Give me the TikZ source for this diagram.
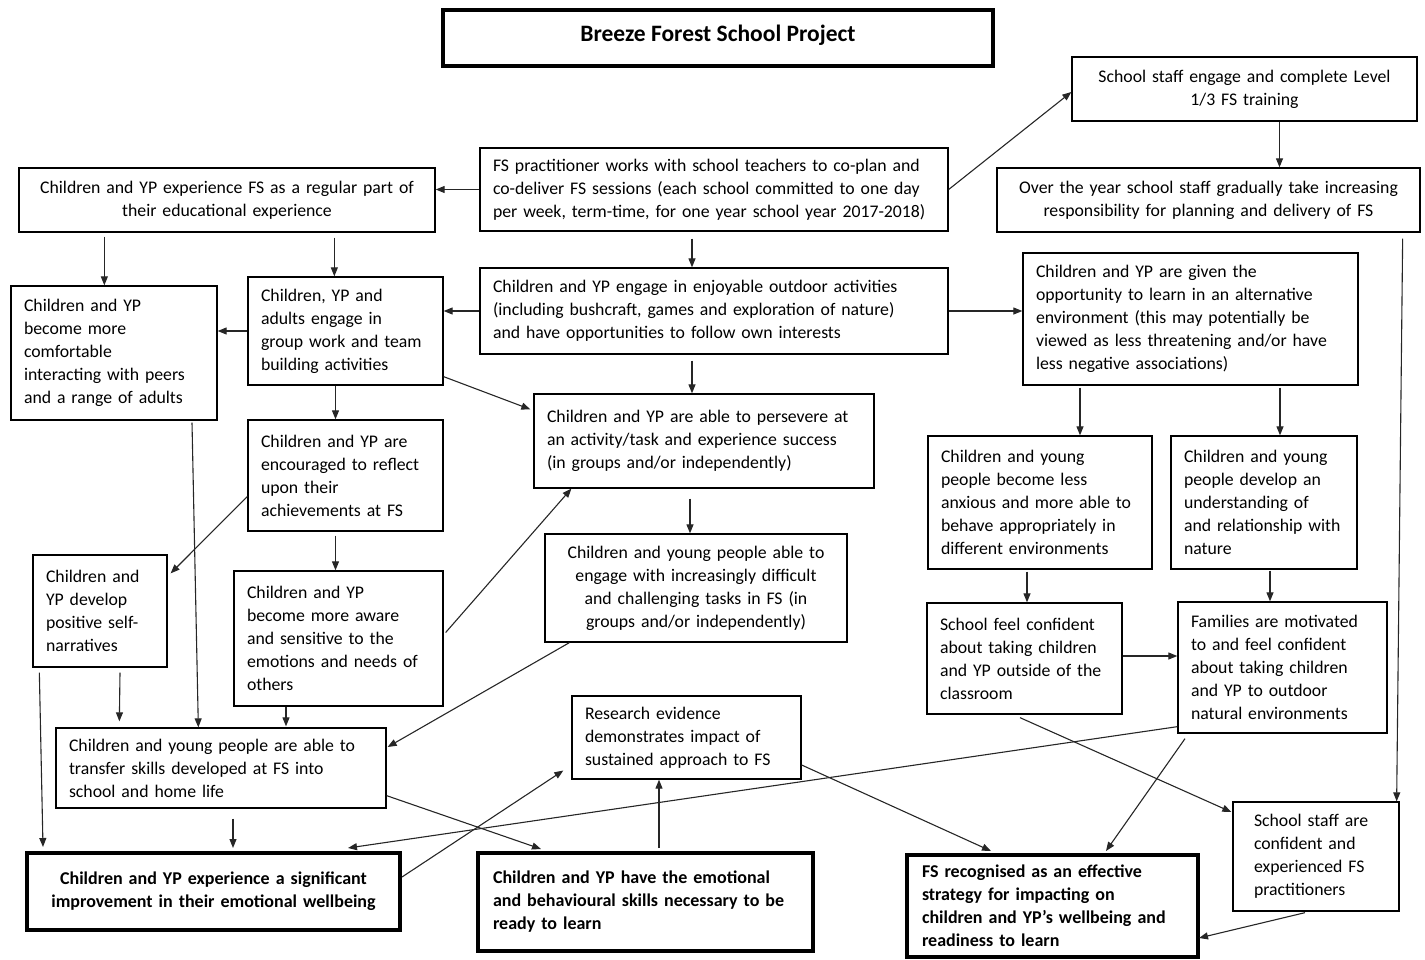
\documentclass[tikz,border=0pt]{standalone}
\usepackage{fontspec}
\setmainfont{Carlito}
\usepackage{tikz}
\usetikzlibrary{positioning}
\usetikzlibrary{calc,arrows.meta}

\tikzset{
	fsbox/.style={draw=black, line width=1.3pt, fill=white, inner xsep=13pt, inner ysep=3pt,
		font=\fontsize{17.75}{23}\selectfont},
	leftbox/.style={fsbox, align=left},
	midbox/.style={fsbox, align=center},
	keybox/.style={line width=4pt, inner xsep=15pt, font=\fontsize{18}{23}\selectfont\bfseries},
	link/.style={draw=black!85, line width=1.1pt, -{Triangle[length=9pt,width=7pt]}},
}

\begin{document}
\begin{tikzpicture}[x=1pt,y=-1pt]
	
	\useasboundingbox (0,0) rectangle (1425,959);
	
	% NOTE: ALL POSITIONS ARE IN PIXELS OF THE ORIGINAL PAGE, y GROWS DOWNWARD
	%		TEXT WIDTH = BOX WIDTH - 2*INNER XSEP
	
	\node[midbox, keybox, minimum width=550pt, minimum height=56pt, text depth=9pt,
		font=\fontsize{23.5}{28}\selectfont\bfseries] (Title) at (718,38) {Breeze Forest School Project};
	
	% top row
	\node[leftbox, text width=442pt, minimum height=83pt] (Plan) at (714,189.5)
		{FS practitioner works with school teachers to co-plan and\\co-deliver FS sessions (each school committed to one day\\per week, term-time, for one year school year 2017-2018)};
	\node[midbox, text width=390pt, minimum height=64pt] (Regular) at (227,200)
		{Children and YP experience FS as a regular part of\\their educational experience};
	\node[midbox, text width=319pt, minimum height=64pt] (Training) at (1244.5,89)
		{School staff engage and complete Level\\1/3 FS training};
	\node[midbox, text width=397pt, minimum height=64pt] (Gradual) at (1208.5,200)
		{Over the year school staff gradually take increasing\\responsibility for planning and delivery of FS};
	
	% second row
	\node[leftbox, text width=442pt, minimum height=86pt] (Outdoor) at (714,311)
		{Children and YP engage in enjoyable outdoor activities\\(including bushcraft, games and exploration of nature)\\and have opportunities to follow own interests};
	\node[leftbox, text width=169pt, minimum height=108pt] (Group) at (345.5,331)
		{Children, YP and\\adults engage in\\group work and team\\building activities};
	\node[leftbox, text width=180pt, minimum height=134pt] (Comfortable) at (114,353)
		{Children and YP\\become more\\comfortable\\interacting with peers\\and a range of adults};
	\node[leftbox, text width=309pt, minimum height=132pt] (Alternative) at (1190.5,319)
		{Children and YP are given the\\opportunity to learn in an alternative\\environment (this may potentially be\\viewed as less threatening and/or have\\less negative associations)};
	
	% middle
	\node[leftbox, text width=314pt, minimum height=94pt] (Persevere) at (704,441)
		{Children and YP are able to persevere at\\an activity/task and experience success\\(in groups and/or independently)};
	\node[leftbox, text width=169pt, minimum height=111pt] (Reflect) at (345.5,475.5)
		{Children and YP are\\encouraged to reflect\\upon their\\achievements at FS};
	\node[midbox, text width=276pt, minimum height=108pt] (Harder) at (696,588)
		{Children and young people able to\\engage with increasingly difficult\\and challenging tasks in FS (in\\groups and/or independently)};
	\node[leftbox, text width=198pt, minimum height=133pt] (Anxious) at (1040,502.5)
		{Children and young\\people become less\\anxious and more able to\\behave appropriately in\\different environments};
	\node[leftbox, text width=160pt, minimum height=133pt] (Nature) at (1264,502.5)
		{Children and young\\people develop an\\understanding of\\and relationship with\\nature};
	\node[leftbox, text width=108pt, minimum height=112pt] (Narratives) at (100,611)
		{Children and\\YP develop\\positive self-\\narratives};
	\node[leftbox, text width=183pt, minimum height=135pt] (Aware) at (338.5,638.5)
		{Children and YP\\become more aware\\and sensitive to the\\emotions and needs of\\others};
	\node[leftbox, text width=169pt, minimum height=111pt] (Confident) at (1024.5,658.5)
		{School feel confident\\about taking children\\and YP outside of the\\classroom};
	\node[leftbox, text width=183pt, minimum height=131pt] (Families) at (1282.5,667.5)
		{Families are motivated\\to and feel confident\\about taking children\\and YP to outdoor\\natural environments};
	
	% lower part
	\node[leftbox, text width=203pt, minimum height=83pt] (Research) at (686.5,737.5)
		{Research evidence\\demonstrates impact of\\sustained approach to FS};
	\node[leftbox, text width=304pt, minimum height=80pt] (Transfer) at (221,768)
		{Children and young people are able to\\transfer skills developed at FS into\\school and home life};
	\node[leftbox, inner xsep=21pt, text width=124pt, minimum height=109pt] (Staff) at (1316,856.5)
		{School staff are\\confident and\\experienced FS\\practitioners};
	
	% outcomes (thick boxes)
	\node[midbox, keybox, text width=343pt, minimum height=77pt] (Wellbeing) at (213.5,891.5)
		{Children and YP experience a significant\\improvement in their emotional wellbeing};
	\node[leftbox, keybox, text width=305pt, minimum height=98pt] (Ready) at (645.5,902)
		{Children and YP have the emotional\\and behavioural skills necessary to be\\ready to learn};
	\node[leftbox, keybox, text width=261pt, minimum height=102pt] (Recognised) at (1052.5,906)
		{FS recognised as an effective\\strategy for impacting on\\children and YP’s wellbeing and\\readiness to learn};
	
	
	%%%%%%%%%%%%%%%%%%%%%%%%%%%%%%%%%%%%%%%%%%%%%%%%%%%%%%%%%%%%%%
	% connectors
	
	\draw[link] (Plan.west) -- (Plan.west -| Regular.east);
	\draw[link] (Plan.east) -- ($(Training.west)+(0,3)$);
	\draw[link] ($(Training.south)+(35,0)$) -- ($(Gradual.north)+(71,0)$);
	\draw[link] ($(Plan.south)+(-22,7)$) -- ($(Outdoor.north)+(-22,0)$);
	
	\draw[link] ($(Regular.south west)+(86,4)$) -- ($(Comfortable.north west)+(94,0)$);
	\draw[link] ($(Regular.south west)+(316,5)$) -- ($(Group.north west)+(87,0)$);
	\draw[link] (Outdoor.west) -- (Outdoor.west -| Group.east);
	\draw[link] (Outdoor.east) -- (Outdoor.east -| Alternative.west);
	\draw[link] (Group.west) -- (Group.west -| Comfortable.east);
	\draw[link] ($(Group.south east)+(0,-9)$) -- ($(Persevere.north west)+(-3,16)$);
	\draw[link] ($(Outdoor.south)+(-22,6)$) -- ($(Persevere.north)+(-12,0)$);
	\draw[link] ($(Group.south)+(-10,0)$) -- ($(Reflect.north)+(-10,0)$);
	
	\draw[link] ($(Reflect.west)+(0,21)$) -- ($(Narratives.north east)+(3,19)$);
	\draw[link] ($(Reflect.south)+(-10,4)$) -- ($(Aware.north)+(-3,0)$);
	\draw[link] ($(Persevere.south)+(-14,10)$) -- ($(Harder.north)+(-6,0)$);
	\draw[link] ($(Aware.east)+(2,-6)$) -- ($(Persevere.south west)+(38,0)$);
	\draw[link] ($(Harder.south west)+(25,0)$) -- ($(Transfer.east)+(1,-21)$);
	
	\draw[link] ($(Alternative.south)+(-110.5,2)$) -- ($(Anxious.north)+(40,0)$);
	\draw[link] ($(Alternative.south)+(89.5,2)$) -- ($(Nature.north)+(16,0)$);
	\draw[link] ($(Anxious.south)+(-13,2)$) -- ($(Confident.north)+(2.5,0)$);
	\draw[link] ($(Nature.south)+(6,1)$) -- ($(Families.north)+(-12.5,0)$);
	\draw[link] ($(Confident.east)+(0,-2.5)$) -- ($(Families.west)+(0,-11.5)$);
	\draw[link] ($(Gradual.south east)+(-18,6)$) -- ($(Staff.north east)+(-3,0)$);
	
	\draw[link] ($(Comfortable.south)+(78,2)$) -- ($(Transfer.north west)+(143,0)$);
	\draw[link] ($(Narratives.south)+(20,5)$) -- ($(Transfer.north west)+(64,-6)$);
	\draw[link] ($(Aware.south)+(-52.5,0)$) -- ($(Transfer.north)+(65,-1)$);
	\draw[link] ($(Narratives.south west)+(7,5)$) -- ($(Wellbeing.north west)+(18,-4)$);
	\draw[link] ($(Transfer.south)+(12,10)$) -- ($(Wellbeing.north)+(19.5,-3)$);
	
	\draw[link] ($(Wellbeing.east)+(0,-14.5)$) -- ($(Research.west)+(-8,33)$);
	\draw[link] ($(Transfer.south east)+(0,-13)$) -- ($(Ready.north west)+(65,-2)$);
	\draw[link] ($(Families.south west)+(0,-7)$) -- ($(Wellbeing.north)+(134.5,-3)$);
	\draw[link] ($(Confident.south)+(-4.5,3)$) -- ($(Staff.west)+(-1,-44.5)$);
	\draw[link] ($(Research.east)+(0,27.5)$) -- ($(Recognised.north west)+(86,-2)$);
	\draw[link] ($(Families.south)+(-97.5,5)$) -- ($(Recognised.north west)+(201,-2)$);
	\draw[link] ($(Staff.south)+(-11,1)$) -- ($(Recognised.east)+(-1,32)$);
	\draw[link] ($(Ready.north)+(13.5,-3)$) -- ($(Research.south)+(-27.5,0)$);
	
\end{tikzpicture}
\end{document}
